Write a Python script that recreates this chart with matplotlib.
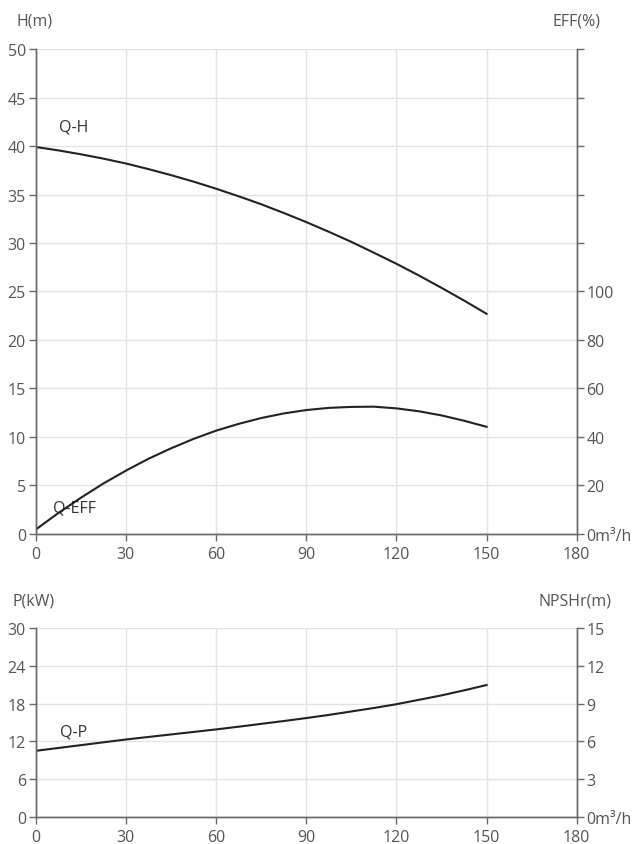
import matplotlib
matplotlib.use('Agg')
import matplotlib.pyplot as plt

plt.rcParams['font.family'] = ['Open Sans', 'DejaVu Sans']

# ---- data ----
flow = [0, 7.5, 15, 22.5, 30, 37.5, 45, 52.5, 60, 67.5, 75, 82.5, 90,
        97.5, 105, 112.5, 120, 127.5, 135, 142.5, 150]
head = [39.9, 39.55, 39.15, 38.7, 38.2, 37.62, 37.0, 36.33, 35.6, 34.82, 34.0,
        33.1, 32.16, 31.16, 30.12, 29.0, 27.86, 26.65, 25.38, 24.07, 22.7]
eff = [1.8, 8.6, 14.9, 20.8, 26.1, 31.0, 35.3, 39.2, 42.6, 45.4, 47.8,
       49.7, 51.1, 52.0, 52.4, 52.5, 51.8, 50.6, 48.9, 46.7, 44.2]
power = [10.5, 10.95, 11.4, 11.85, 12.3, 12.7, 13.1, 13.5, 13.9, 14.33, 14.78,
         15.23, 15.7, 16.2, 16.75, 17.3, 17.9, 18.6, 19.3, 20.1, 20.95]

x_ticks = [0, 30, 60, 90, 120, 150, 180]
h_ticks = [0, 5, 10, 15, 20, 25, 30, 35, 40, 45, 50]
eff_ticks = [0, 20, 40, 60, 80, 100, 120, 140, 160, 180, 200]
eff_labels = ['0m³/h', '20', '40', '60', '80', '100', '', '', '', '', '']
p_ticks = [0, 6, 12, 18, 24, 30]
npsh_ticks = [0, 3, 6, 9, 12, 15]
npsh_labels = ['0m³/h', '3', '6', '9', '12', '15']

TXT = '#555555'
SPINE = '#6a6a6a'
GRID = '#e3e3e3'
LINE = '#222222'
FS = 11.5

fig = plt.figure(figsize=(6.36, 8.45), dpi=100)
fig.patch.set_facecolor('white')


def style(ax, twin):
    ax.spines['top'].set_visible(False)
    twin.spines['top'].set_visible(False)
    for a in (ax, twin):
        for s in ['left', 'right', 'bottom']:
            a.spines[s].set_color(SPINE)
            a.spines[s].set_linewidth(1.0)
        a.tick_params(colors=SPINE, labelcolor=TXT, labelsize=FS, length=5, width=1.0, direction='out')
    ax.tick_params(axis='y', pad=2)
    twin.tick_params(axis='y', pad=2)
    ax.tick_params(axis='x', pad=4)
    ax.grid(True, color=GRID, linewidth=1.0)
    ax.set_axisbelow(True)


# ---- top chart ----
ax1 = fig.add_axes([0.0561, 0.3669, 0.8507, 0.5739])
ax1b = ax1.twinx()
style(ax1, ax1b)
ax1.set_xlim(0, 180)
ax1.set_ylim(0, 50)
ax1.set_xticks(x_ticks)
ax1.set_yticks(h_ticks)
ax1b.set_ylim(0, 200)
ax1b.set_yticks(eff_ticks)
ax1b.set_yticklabels(eff_labels)
ax1.plot(flow, head, color=LINE, linewidth=1.5)
ax1b.plot(flow, eff, color=LINE, linewidth=1.5)
ax1.text(7.8, 42.0, 'Q-H', color='#333333', fontsize=FS, va='center', ha='left')
ax1.text(5.8, 2.7, 'Q-EFF', color='#333333', fontsize=FS, va='center', ha='left')
fig.text(16 / 636, 1 - 22 / 845, 'H(m)', color=TXT, fontsize=FS, ha='left', va='center')
fig.text(600 / 636, 1 - 22 / 845, 'EFF(%)', color=TXT, fontsize=FS, ha='right', va='center')

# ---- bottom chart ----
ax2 = fig.add_axes([0.0561, 0.0320, 0.8507, 0.2236])
ax2b = ax2.twinx()
style(ax2, ax2b)
ax2.set_xlim(0, 180)
ax2.set_ylim(0, 30)
ax2.set_xticks(x_ticks)
ax2.set_yticks(p_ticks)
ax2b.set_ylim(0, 15)
ax2b.set_yticks(npsh_ticks)
ax2b.set_yticklabels(npsh_labels)
ax2.plot(flow, power, color=LINE, linewidth=1.5)
ax2.text(8.0, 13.6, 'Q-P', color='#333333', fontsize=FS, va='center', ha='left')
fig.text(13 / 636, 1 - 602 / 845, 'P(kW)', color=TXT, fontsize=FS, ha='left', va='center')
fig.text(612 / 636, 1 - 602 / 845, 'NPSHr(m)', color=TXT, fontsize=FS, ha='right', va='center')

fig.savefig('out.png', dpi=100, facecolor='white')
